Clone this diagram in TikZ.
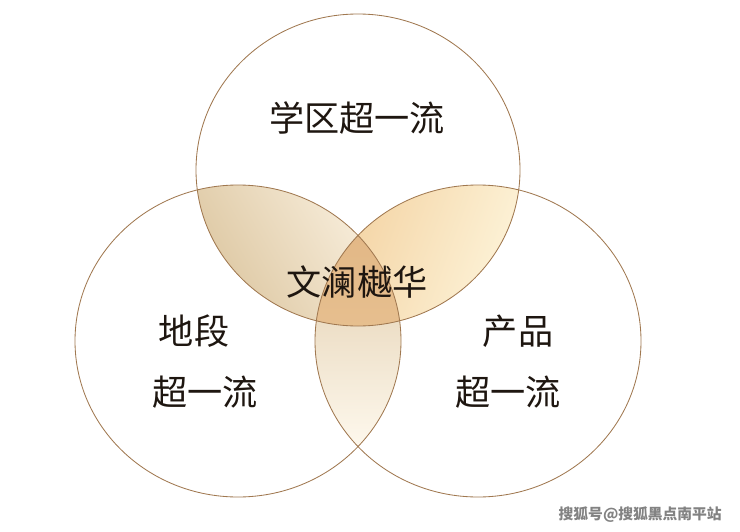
\documentclass[tikz,border=0pt]{standalone}
\usepackage{fontspec}
\usepackage{tikz}
\usetikzlibrary{positioning}
\newfontfamily\cjk{Noto Sans CJK SC}
\definecolor{ringbrown}{RGB}{160,120,80}
\definecolor{inkdark}{RGB}{30,22,16}
\definecolor{lensdark}{RGB}{220,198,160}
\definecolor{lenslight}{RGB}{251,242,226}
\definecolor{peach}{RGB}{243,208,158}
\definecolor{cream}{RGB}{253,244,218}
\definecolor{sanddark}{RGB}{234,218,192}
\definecolor{sandlight}{RGB}{254,249,238}
\definecolor{coretan}{RGB}{224,180,130}
\definecolor{corelight}{RGB}{238,204,158}
\definecolor{markgray}{RGB}{130,130,130}
\newcommand{\topring}{(358,170) ellipse [x radius=162, y radius=156]}
\newcommand{\leftring}{(238,341) ellipse [x radius=163, y radius=156]}
\newcommand{\rightring}{(478,341) ellipse [x radius=163, y radius=156]}
\tikzset{
  ring/.style={draw=ringbrown, line width=0.6pt},
  biglabel/.style={font=\cjk\fontsize{25}{30}\selectfont, text=inkdark, inner sep=0pt},
  marktext/.style={font=\cjk\fontsize{10.5}{12}\selectfont\bfseries, text=markgray, inner sep=0pt}
}

\begin{document}
\begin{tikzpicture}[x=0.025cm, y=-0.025cm]
  \useasboundingbox (0,0) rectangle (740,531);

  % Top / left lens
  \begin{scope}
    \clip \topring;
    \clip \leftring;
    \shade[left color=lensdark, right color=lenslight, shading angle=120] (195,180) rectangle (405,330);
  \end{scope}
  % Top / right lens
  \begin{scope}
    \clip \topring;
    \clip \rightring;
    \shade[left color=peach, right color=cream, shading angle=70] (310,180) rectangle (522,330);
  \end{scope}
  % Left / right lens
  \begin{scope}
    \clip \leftring;
    \clip \rightring;
    \shade[top color=sanddark, bottom color=sandlight] (310,300) rectangle (405,450);
  \end{scope}
  % Middle part
  \begin{scope}
    \clip \topring;
    \clip \leftring;
    \shade[top color=coretan, bottom color=corelight] \rightring;
  \end{scope}

  % Rings
  \draw[ring] \topring;
  \draw[ring] \leftring;
  \draw[ring] \rightring;

  % Labels
  \node[biglabel] (school) at (357,118) {学区超一流};
  \node[biglabel] (core) at (357,282) {文澜樾华};
  \node[biglabel] (site) at (194,331) {地段};
  \node[biglabel] (siteup) at (205,392) {超一流};
  \node[biglabel] (product) at (518,331) {产品};
  \node[biglabel] (productup) at (508,392) {超一流};

  % Watermark
  \node[marktext, anchor=east] (sohu) at (722,515) {搜狐号@搜狐黑点南平站};
\end{tikzpicture}
\end{document}
